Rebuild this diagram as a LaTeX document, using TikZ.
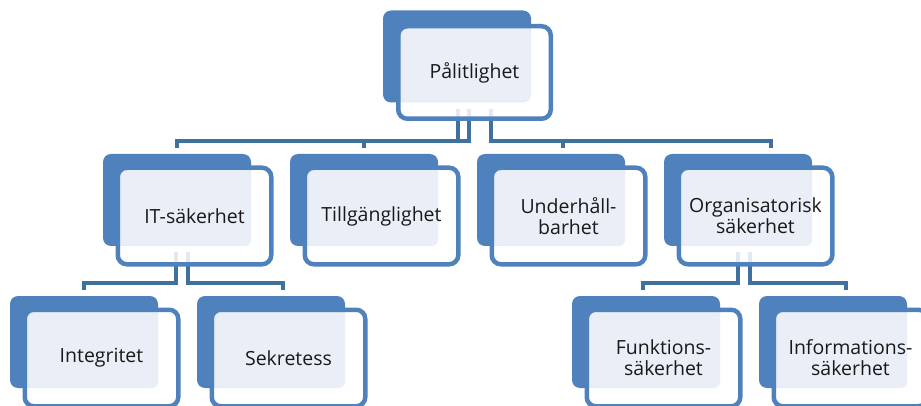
\documentclass[tikz,border=0pt]{standalone}
\usepackage{fontspec}
\setmainfont{Open Sans}
\usetikzlibrary{positioning, backgrounds}
\definecolor{boxblue}{RGB}{79,129,189}
\definecolor{linkblue}{RGB}{64,112,158}
\definecolor{paleblue}{RGB}{234,239,247}
\tikzset{%
  node distance=187pt, % centre to centre of two neighbours
  frontbox/.style={%
    rectangle, rounded corners=9pt, draw=boxblue, line width=4.5pt,
    fill=white, fill opacity=0.85, text opacity=1,
    minimum width=153.5pt, minimum height=96.5pt, inner sep=0pt, outer sep=0pt,
    align=center, font=\fontsize{19.5}{21}\selectfont, text=black!90,
    path picture={\fill[paleblue, fill opacity=1, rounded corners=6pt]
      ([shift={(3.75,2.75)}]path picture bounding box.north west) rectangle
      ([shift={(-20.25,-18.25)}]path picture bounding box.south east);}
  },
  backbox/.style={%
    rectangle, rounded corners=8pt, fill=boxblue,
    minimum width=148pt, minimum height=92pt, inner sep=0pt, outer sep=0pt
  },
  link/.style={draw=linkblue, line width=4pt}
}

\begin{document}
\begin{tikzpicture}[x=1pt, y=-1pt]
    \useasboundingbox (0,0) rectangle (921,406);

    \node[frontbox, minimum width=152.5pt, minimum height=92.5pt] (top) at (474.5,72.5) {Pålitlighet};

    \node[frontbox] (it) at (194.5,216) {IT-säkerhet};
    \node[frontbox, right of=it] (tillg) {Tillgänglighet};
    \node[frontbox, right of=tillg] (underh) {Underhåll-\\barhet};
    \node[frontbox, right of=underh] (org) {Organisatorisk\\säkerhet};

    \node[frontbox] (integ) at (101.5,358) {Integritet};
    \node[frontbox, right of=integ] (sekr) {Sekretess};
    \node[frontbox] (funk) at (663.5,358) {Funktions-\\säkerhet};
    \node[frontbox, right of=funk] (info) {Informations-\\säkerhet};

    \begin{pgfonlayer}{background}
    \foreach \nd in {top,it,tillg,underh,org,integ,sekr,funk,info}
      \node[backbox] (\nd-back) at ([shift={(-17.5,-16)}]\nd.center) {};

    % top level
    \draw[link] ([shift={(-16.5,36.5)}]top.center) -- ++(0,32) -| ([shift={(0,-6)}]it-back.north);
    \draw[link] ([shift={(-5.5,36.5)}]top.center) -- ++(0,32) -| ([shift={(0,-6)}]tillg-back.north);
    \draw[link] ([shift={(16.5,36.5)}]top.center) -- ++(0,32) -| ([shift={(12,-6)}]underh-back.north);
    \draw[link] ([shift={(16.5,36.5)}]top.center) -- ++(0,32) -| ([shift={(33,-6)}]org-back.north);

    % second level
    \draw[link] ([shift={(-18.5,36)}]it.center) -- ++(0,31) -| ([shift={(0,-6)}]integ-back.north);
    \draw[link] ([shift={(-6.5,36)}]it.center) -- ++(0,31) -| ([shift={(12,-6)}]sekr-back.north);
    \draw[link] ([shift={(-17.5,36)}]org.center) -- ++(0,31) -| ([shift={(-3,-6)}]funk-back.north);
    \draw[link] ([shift={(-5.5,36)}]org.center) -- ++(0,31) -| ([shift={(13,-6)}]info-back.north);
    \end{pgfonlayer}
\end{tikzpicture}
\end{document}
